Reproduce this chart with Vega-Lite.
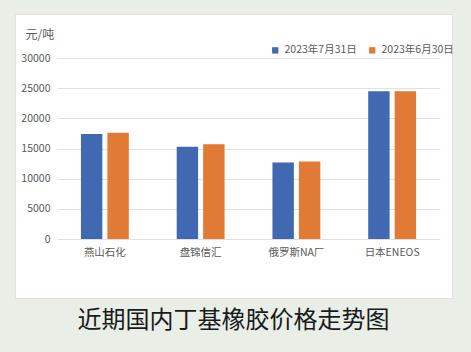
{
  "$schema": "https://vega.github.io/schema/vega-lite/v6.json",
  "width": 437,
  "height": 284,
  "autosize": {"type": "none"},
  "padding": {"left": 15, "top": 14, "right": 19, "bottom": 54},
  "background": "#E9EFE7",
  "view": {"fill": "white", "stroke": "#e6dfdf"},
  "title": {
    "text": "近期国内丁基橡胶价格走势图",
    "orient": "bottom",
    "anchor": "middle",
    "fontSize": 24,
    "fontWeight": "normal",
    "font": "Noto Sans CJK SC",
    "color": "#1a1a1a",
    "offset": 11
  },
  "data": {
    "values": [
      {"企业": "燕山石化", "日期": "2023年7月31日", "价格": 17400},
      {"企业": "燕山石化", "日期": "2023年6月30日", "价格": 17600},
      {"企业": "盘锦信汇", "日期": "2023年7月31日", "价格": 15300},
      {"企业": "盘锦信汇", "日期": "2023年6月30日", "价格": 15700},
      {"企业": "俄罗斯NA厂", "日期": "2023年7月31日", "价格": 12700},
      {"企业": "俄罗斯NA厂", "日期": "2023年6月30日", "价格": 12850},
      {"企业": "日本ENEOS", "日期": "2023年7月31日", "价格": 24500},
      {"企业": "日本ENEOS", "日期": "2023年6月30日", "价格": 24500}
    ]
  },
  "mark": {"type": "bar"},
  "encoding": {
    "x": {
      "field": "企业",
      "type": "nominal",
      "sort": ["燕山石化", "盘锦信汇", "俄罗斯NA厂", "日本ENEOS"],
      "scale": {"range": [42, 425], "paddingInner": 0.5, "paddingOuter": 0.25},
      "axis": {
        "title": null,
        "domain": false,
        "ticks": false,
        "grid": false,
        "offset": -59,
        "labelPadding": 8,
        "labelAngle": 0,
        "labelFontSize": 10.5,
        "labelColor": "#595959",
        "labelFont": "Noto Sans CJK SC"
      }
    },
    "xOffset": {
      "field": "日期",
      "type": "nominal",
      "sort": ["2023年7月31日", "2023年6月30日"],
      "scale": {"paddingInner": 0.19}
    },
    "y": {
      "field": "价格",
      "type": "quantitative",
      "scale": {"domain": [0, 30000], "range": [225, 44], "nice": false},
      "axis": {
        "title": "元/吨",
        "values": [0, 5000, 10000, 15000, 20000, 25000, 30000],
        "format": "d",
        "grid": true,
        "gridColor": "#e0e0e0",
        "domain": false,
        "ticks": false,
        "offset": -42,
        "labelPadding": 7,
        "labelFontSize": 10.5,
        "labelColor": "#595959",
        "labelFont": "Noto Sans CJK SC",
        "titleAngle": 0,
        "titleAlign": "left",
        "titleBaseline": "middle",
        "titleX": -32,
        "titleY": 20,
        "titleFontSize": 12,
        "titleFontWeight": "normal",
        "titleColor": "#595959",
        "titleFont": "Noto Sans CJK SC"
      }
    },
    "color": {
      "field": "日期",
      "type": "nominal",
      "scale": {"domain": ["2023年7月31日", "2023年6月30日"], "range": ["#4169B2", "#E07A35"]},
      "legend": {
        "title": null,
        "orient": "none",
        "legendX": 255,
        "legendY": 31,
        "direction": "horizontal",
        "symbolType": "square",
        "symbolSize": 40,
        "symbolStrokeWidth": 0,
        "labelFontSize": 10.5,
        "labelColor": "#595959",
        "labelFont": "Noto Sans CJK SC",
        "columnPadding": 10
      }
    }
  }
}
